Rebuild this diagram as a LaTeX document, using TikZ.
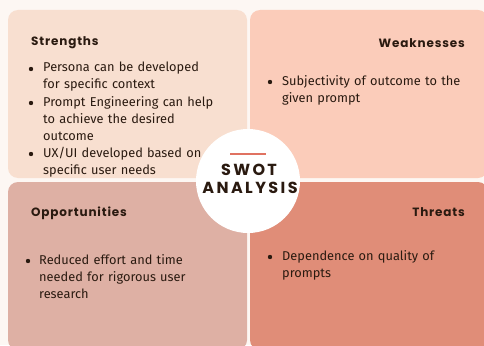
\documentclass[tikz,border=0pt]{standalone}
\usepackage{fontspec}
\setmainfont{Fira Sans}
\newfontfamily\titlefont[LetterSpace=7]{Poppins Bold}
\newfontfamily\bigtitle[LetterSpace=15]{Poppins Bold}
\definecolor{bgc}{HTML}{FDF7F3}
\definecolor{sc}{HTML}{F8DFD0}
\definecolor{wc}{HTML}{FBCCBA}
\definecolor{oc}{HTML}{DEB0A4}
\definecolor{tc}{HTML}{E08D78}
\definecolor{txt}{HTML}{2A1A10}
\definecolor{redl}{HTML}{E07261}
\begin{document}
\begin{tikzpicture}[x=1pt,y=-1pt,
  quad/.style={rounded corners=10pt},
  ttl/.style={font=\titlefont\fontsize{12}{14}\selectfont, text=txt, inner sep=0pt},
  body/.style={font=\fontsize{12.8}{17}\selectfont, text=txt, inner sep=0pt, align=left, anchor=north west, text width=200pt},
  bul/.style={circle, fill=txt, inner sep=0pt, minimum size=4.4pt}]
\fill[bgc] (0,0) rectangle (484,345);
\useasboundingbox (0,0) rectangle (484,345);
\fill[sc,quad] (8,10) rectangle (247,178);
\fill[wc,quad] (250,10) rectangle (488,178);
\fill[oc,quad] (8,182) rectangle (247,350);
\fill[tc,quad] (250,182) rectangle (488,350);
% Strengths
\node[ttl, anchor=west] (st) at (31,43) {Strengths};
\node[bul] (sb1) at (31,69) {};
\node[body] (s1) at (43,62) {Persona can be developed\\for specific context};
\node[bul] (sb2) at (31,103) {};
\node[body] (s2) at (43,96) {Prompt Engineering can help\\to achieve the desired\\outcome};
\node[bul] (sb3) at (31,154) {};
\node[body] (s3) at (43,147) {UX/UI developed based on\\specific user needs};
% Weaknesses
\node[ttl, anchor=east] (wt) at (465,43) {Weaknesses};
\node[bul] (wb1) at (270,82) {};
\node[body] (w1) at (282,75) {Subjectivity of outcome to the\\given prompt};
% Opportunities
\node[ttl, anchor=west] (ot) at (31,213) {Opportunities};
\node[bul] (ob1) at (28,261) {};
\node[body] (o1) at (39,254) {Reduced effort and time\\needed for rigorous user\\research};
% Threats
\node[ttl, anchor=east] (tt) at (465,212) {Threats};
\node[bul] (tb1) at (270,257) {};
\node[body] (t1) at (282,250) {Dependence on quality of\\prompts};
% center circle
\node[circle, fill=white, minimum size=104pt, inner sep=0pt] (c) at (248,181) {};
\coordinate (la) at (230,154);
\coordinate (lb) at (266,154);
\draw[redl, line width=1.3pt] (la) -- (lb);
\node[font=\bigtitle\fontsize{16}{18}\selectfont, text=txt, inner sep=0pt] (sw) at (249,170) {SWOT};
\node[font=\bigtitle\fontsize{16}{18}\selectfont, text=txt, inner sep=0pt] (an) at (250,188) {ANALYSIS};
\end{tikzpicture}
\end{document}
